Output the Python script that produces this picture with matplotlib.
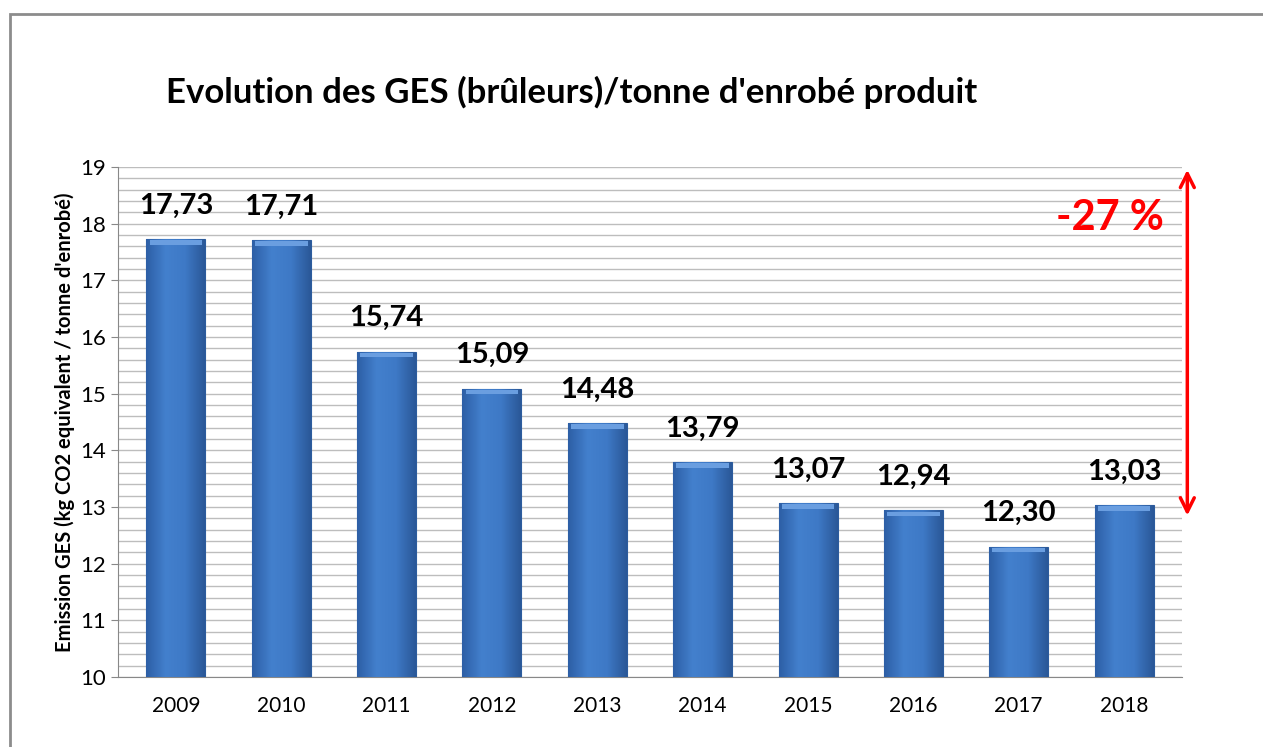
import matplotlib.pyplot as plt
import numpy as np
from matplotlib.patches import Rectangle
from matplotlib.colors import LinearSegmentedColormap

years = ['2009', '2010', '2011', '2012', '2013', '2014', '2015', '2016', '2017', '2018']
values = [17.73, 17.71, 15.74, 15.09, 14.48, 13.79, 13.07, 12.94, 12.30, 13.03]
labels = ['17,73', '17,71', '15,74', '15,09', '14,48', '13,79', '13,07', '12,94', '12,30', '13,03']
title = "Evolution des GES (brûleurs)/tonne d'enrobé produit"
ylabel = "Emission GES (kg CO2 equivalent / tonne d'enrobé)"
change_label = '-27 %'

plt.rcParams['font.family'] = ['Lato', 'DejaVu Sans']

W, H = 1263, 747
fig = plt.figure(figsize=(W / 100, H / 100), dpi=100)
ax = fig.add_axes([118 / W, 1 - 677 / H, (1182 - 118) / W, (677 - 167) / H])

# frame around the chart
fig.patches.append(Rectangle((10 / W, -0.1), 1.2, 1 - 14 / H + 0.1, transform=fig.transFigure,
                             fill=False, edgecolor='#8c8c8c', linewidth=2))

x = np.arange(len(years))
width = 0.56
bars = ax.bar(x, [v - 10 for v in values], width, bottom=10, color='#3a70bd',
              edgecolor='#2c5c9e', linewidth=0.8, zorder=3)

# horizontal shading to mimic the bevelled bars
cmap = LinearSegmentedColormap.from_list('bar', ['#2d5fa6', '#4380cd', '#3e79c6', '#2a5898'])
grad = np.linspace(0, 1, 64).reshape(1, -1)
for b, v in zip(bars, values):
    x0 = b.get_x()
    im = ax.imshow(grad, extent=[x0, x0 + width, 10, v], aspect='auto', cmap=cmap, zorder=3.5)
    im.set_clip_path(b)
    ax.add_patch(Rectangle((x0 + 0.03, v - 0.1), width - 0.06, 0.08, color='#6a9ee0',
                           zorder=4, linewidth=0))

for xi, v, lab in zip(x, values, labels):
    ax.text(xi, v + 0.36, lab, ha='center', va='bottom', fontsize=21, fontweight='bold', zorder=5)

ax.set_xlim(-0.55, len(years) - 0.45)
ax.set_ylim(10, 19)
ax.set_yticks(range(10, 20))
ax.set_yticks(np.arange(10, 19.01, 0.2), minor=True)
ax.grid(axis='y', which='both', color='#bdbdbd', linewidth=1, zorder=0)
ax.set_xticks(x)
ax.set_xticklabels(years, fontsize=15)
ax.tick_params(axis='y', which='major', labelsize=16, length=5, color='#888888')
ax.tick_params(axis='y', which='minor', length=0)
ax.tick_params(axis='x', length=0, pad=14)
for s in ['top', 'right']:
    ax.spines[s].set_visible(False)
ax.spines['left'].set_color('#888888')
ax.spines['bottom'].set_color('#888888')

ax.set_ylabel(ylabel, fontsize=14.5, fontweight='bold', labelpad=4)

fig.text(572 / W, 1 - 92 / H, title, ha='center', va='center', fontsize=25, fontweight='bold')

# red arrow showing the decrease
ax.annotate('', xy=(1.005, 19), xytext=(1.005, 12.8), xycoords=('axes fraction', 'data'),
            arrowprops=dict(arrowstyle='<->', color='#ff0000', lw=2.5, mutation_scale=25),
            annotation_clip=False)
ax.text(0.932, 18.1, change_label, transform=ax.get_yaxis_transform(), color='#ff0000',
        fontsize=30, fontweight='bold', ha='center', va='center')

fig.savefig('out.png', dpi=100)
